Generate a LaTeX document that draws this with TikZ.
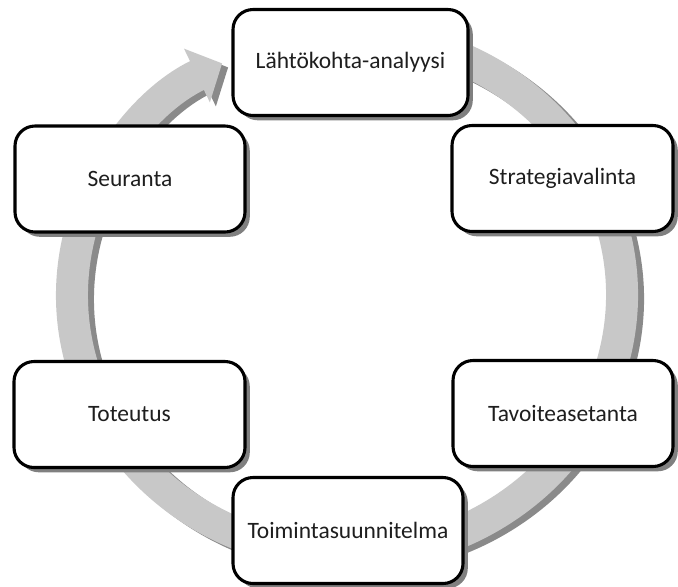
\documentclass[tikz,border=0pt]{standalone}
\usepackage{fontspec}
\setmainfont{Carlito}
\usetikzlibrary{arrows.meta, shadows}
\definecolor{ringlight}{HTML}{C8C8C8}
\definecolor{ringdark}{HTML}{8A8A8A}
\definecolor{inktext}{HTML}{1E1E1E}

\begin{document}
\begin{tikzpicture}[
    stagebox/.style={draw=black, line width=2.2pt, rounded corners=0.5cm,
      fill=white, minimum height=2.65cm, inner sep=0pt,
      text=inktext, font=\fontsize{16.7}{19}\selectfont,
      drop shadow={shadow xshift=0.12cm, shadow yshift=-0.12cm,
        fill=black!50, opacity=1}},
    ring/.style={line width=0.8cm,
      -{Triangle[length=0.7cm, width=1.45cm]}}]
  \useasboundingbox (0,0) rectangle (16.95,-14.65);
  % ring with its shadow
  \draw[ring, ringdark] (9.869+0.15,-0.974-0.1)
    arc[start angle=80, end angle=-243, x radius=6.875, y radius=6.5];
  \draw[ring, ringlight] (9.869,-0.974)
    arc[start angle=80, end angle=-243, x radius=6.875, y radius=6.5];
  % stages
  \node[stagebox, minimum width=5.875cm] (analyysi) at (8.7625,-1.5625)
    {Lähtökohta-analyysi};
  \node[stagebox, minimum width=5.525cm] (strategia) at (14.0625,-4.4625)
    {Strategiavalinta};
  \node[stagebox, minimum width=5.5cm] (tavoite) at (14.075,-10.3375)
    {Tavoiteasetanta};
  \node[stagebox, minimum width=5.75cm] (toiminta) at (8.7,-13.2625)
    {Toimintasuunnitelma};
  \node[stagebox, minimum width=5.775cm] (toteutus) at (3.2375,-10.3625)
    {Toteutus};
  \node[stagebox, minimum width=5.75cm] (seuranta) at (3.25,-4.475)
    {Seuranta};
\end{tikzpicture}
\end{document}
